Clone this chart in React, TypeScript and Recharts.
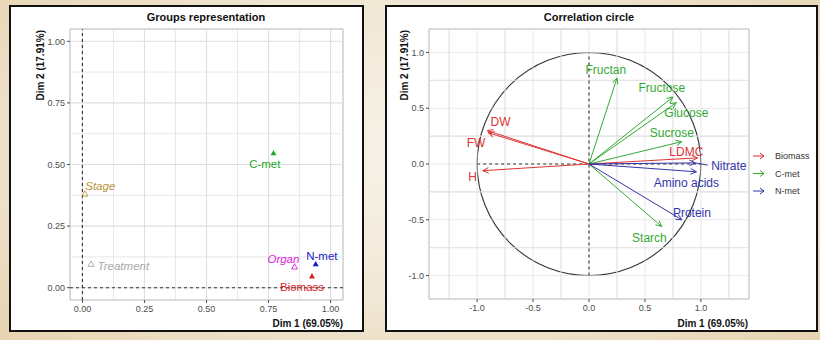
import React from 'react'
import { ScatterChart, Scatter, XAxis, YAxis, ReferenceLine, ReferenceArea } from 'recharts'

// groups representation (left panel)
const groupNames = ['C-met', 'Stage', 'Treatment', 'Organ', 'N-met', 'Biomass']
const groupDim1 = [0.77, 0.01, 0.035, 0.855, 0.94, 0.925]
const groupDim2 = [0.547, 0.381, 0.096, 0.085, 0.096, 0.047]
const groupLabelDim1 = [0.735, 0.072, 0.165, 0.81, 0.965, 0.885]
const groupLabelDim2 = [0.503, 0.413, 0.088, 0.117, 0.129, 0.003]
const groupActive = [true, false, false, false, true, true]
const groupColors = ['#22AA22', '#B8913A', '#A8A8A8', '#DD22DD', '#1A1AC8', '#DD2222']
const groupTicks = [0, 0.25, 0.5, 0.75, 1]
const groupGrid = [0, 0.125, 0.25, 0.375, 0.5, 0.625, 0.75, 0.875, 1]

// correlation circle (right panel)
const varNames = ['DW', 'FW', 'H', 'LDMC', 'Fructan', 'Fructose', 'Glucose', 'Sucrose', 'Starch', 'Nitrate', 'Amino acids', 'Protein']
const varGroup = ['Biomass', 'Biomass', 'Biomass', 'Biomass', 'C-met', 'C-met', 'C-met', 'C-met', 'C-met', 'N-met', 'N-met', 'N-met']
const varDim1 = [-0.91, -0.9, -0.95, 0.97, 0.25, 0.75, 0.78, 0.83, 0.65, 0.95, 0.96, 0.83]
const varDim2 = [0.3, 0.28, -0.06, 0.055, 0.77, 0.6, 0.55, 0.2, -0.56, 0.01, -0.07, -0.5]
const varLabelDim1 = [-0.79, -1.01, -1.04, 0.87, 0.15, 0.65, 0.87, 0.74, 0.54, 1.25, 0.87, 0.92]
const varLabelDim2 = [0.38, 0.19, -0.12, 0.11, 0.84, 0.68, 0.46, 0.28, -0.66, -0.02, -0.17, -0.44]
const legendGroups = ['Biomass', 'C-met', 'N-met']
const legendColors = ['#DD3333', '#33AA33', '#3333AA']
const nitrateConnector = [{ x: 0.95, y: 0.01 }, { x: 1.06, y: -0.01 }]
const circleTicks = [-1, -0.5, 0, 0.5, 1]
const circleGridX = [-1.25, -1, -0.75, -0.5, -0.25, 0, 0.25, 0.5, 0.75, 1, 1.25]
const circleGridY = [-1, -0.75, -0.5, -0.25, 0, 0.25, 0.5, 0.75, 1]

const groupPoints = groupNames.map((name, i) => ({ name, x: groupDim1[i], y: groupDim2[i], color: groupColors[i], active: groupActive[i] }))
const groupLabels = groupNames.map((name, i) => ({ name, x: groupLabelDim1[i], y: groupLabelDim2[i], color: groupColors[i], active: groupActive[i] }))
const colorOf = (g: string) => legendColors[legendGroups.indexOf(g)]
const varLabels = varNames.map((name, i) => ({ name, x: varLabelDim1[i], y: varLabelDim2[i], color: colorOf(varGroup[i]) }))

const GRID = '#DEDEDE'
const TICK = { fontSize: 9, fill: '#4D4D4D' }

const triangle = (p: any) => {
  const { cx, cy, payload } = p
  const pts = `${cx},${cy - 3} ${cx - 3},${cy + 2.3} ${cx + 3},${cy + 2.3}`
  return payload.active
    ? <polygon points={pts} fill={payload.color} />
    : <polygon points={pts} fill="none" stroke={payload.color} strokeWidth={0.9} />
}

const groupText = (p: any) => (
  <text x={p.cx} y={p.cy} textAnchor="middle" dominantBaseline="central" fontSize={11.5}
    fill={p.payload.color} fontStyle={p.payload.active ? 'normal' : 'italic'}>{p.payload.name}</text>
)

const varText = (p: any) => (
  <text x={p.cx} y={p.cy} textAnchor="middle" dominantBaseline="central" fontSize={12} fill={p.payload.color}>
    {p.payload.name}
  </text>
)

const arrow = (color: string) => (p: any) => {
  const { x1, y1, x2, y2 } = p
  const a = Math.atan2(y2 - y1, x2 - x1)
  const L = 6.5
  const w = Math.PI / 7
  const ax = x2 - L * Math.cos(a - w)
  const ay = y2 - L * Math.sin(a - w)
  const bx = x2 - L * Math.cos(a + w)
  const by = y2 - L * Math.sin(a + w)
  return (
    <g>
      <line x1={x1} y1={y1} x2={x2} y2={y2} stroke={color} strokeWidth={1} />
      <polyline points={`${ax},${ay} ${x2},${y2} ${bx},${by}`} fill="none" stroke={color} strokeWidth={1} />
    </g>
  )
}

const ellipse = (p: any) => (
  <ellipse cx={p.x + p.width / 2} cy={p.y + p.height / 2} rx={Math.abs(p.width) / 2} ry={Math.abs(p.height) / 2}
    fill="none" stroke="#333" strokeWidth={1.1} />
)

const panelStyle = (left: number, width: number): React.CSSProperties => ({
  position: 'absolute', left, top: 5, width, height: 327, boxSizing: 'border-box',
  border: '2px solid #111', background: '#fff',
})

function Titles({ w, title, titleX, plotRight, yTitleX }: { w: number; title: string; titleX: number; plotRight: number; yTitleX: number }) {
  return (
    <svg width={w} height={323} style={{ position: 'absolute', left: 0, top: 0, pointerEvents: 'none' }}>
      <text x={titleX} y={14} textAnchor="middle" fontSize={11} fontWeight="bold" fill="#111">{title}</text>
      <text x={plotRight} y={320} textAnchor="end" fontSize={10} fontWeight="bold" fill="#111">Dim 1 (69.05%)</text>
      <text x={yTitleX} y={23} textAnchor="end" fontSize={10} fontWeight="bold" fill="#111"
        transform={`rotate(-90 ${yTitleX} 23)`}>Dim 2 (17.91%)</text>
    </svg>
  )
}

export default function App() {
  return (
    <div style={{
      position: 'absolute', left: 0, top: 0, width: 820, height: 340, overflow: 'hidden',
      fontFamily: '"Liberation Sans", Arial, sans-serif',
      background: 'radial-gradient(ellipse at 50% 45%, #F7F2E8 0%, #F1E8D6 55%, #E6D3B0 100%)',
    }}>
      <div style={panelStyle(9, 355)}>
        <ScatterChart width={351} height={323} margin={{ top: 22, right: 19, bottom: 0, left: 0 }}>
          <XAxis type="number" dataKey="x" domain={[-0.05, 1.05]} ticks={groupTicks} allowDataOverflow
            tickFormatter={(v: number) => v.toFixed(2)} tick={TICK} tickLine={{ stroke: '#4D4D4D' }}
            tickSize={3} tickMargin={3} axisLine={false} height={30} />
          <YAxis type="number" dataKey="y" domain={[-0.05, 1.05]} ticks={groupTicks} allowDataOverflow
            tickFormatter={(v: number) => v.toFixed(2)} tick={TICK} tickLine={{ stroke: '#4D4D4D' }}
            tickSize={3} tickMargin={2} axisLine={false} width={59} />
          {groupGrid.map((v, i) => (
            <ReferenceLine key={'gx' + v} x={v} stroke={GRID} strokeWidth={i % 2 ? 0.7 : 1.1} ifOverflow="visible" />
          ))}
          {groupGrid.map((v, i) => (
            <ReferenceLine key={'gy' + v} y={v} stroke={GRID} strokeWidth={i % 2 ? 0.7 : 1.1} ifOverflow="visible" />
          ))}
          <ReferenceArea x1={-0.05} x2={1.05} y1={-0.05} y2={1.05} fill="none" stroke="#B5B5B5" strokeWidth={1} ifOverflow="visible" />
          <ReferenceLine x={0} stroke="#333" strokeDasharray="3 3" strokeWidth={1.1} ifOverflow="visible" />
          <ReferenceLine y={0} stroke="#333" strokeDasharray="3 3" strokeWidth={1.1} ifOverflow="visible" />
          <Scatter data={groupPoints} shape={triangle} isAnimationActive={false} />
          <Scatter data={groupLabels} shape={groupText} isAnimationActive={false} />
        </ScatterChart>
        <Titles w={351} title="Groups representation" titleX={195} plotRight={332} yTitleX={33} />
      </div>

      <div style={panelStyle(385, 433)}>
        <ScatterChart width={429} height={323} margin={{ top: 22, right: 67, bottom: 0, left: 0 }}>
          <XAxis type="number" dataKey="x" domain={[-1.43, 1.43]} ticks={circleTicks} allowDataOverflow
            tickFormatter={(v: number) => v.toFixed(1)} tick={TICK} tickLine={{ stroke: '#4D4D4D' }}
            tickSize={3} tickMargin={3} axisLine={false} height={31} />
          <YAxis type="number" dataKey="y" domain={[-1.21, 1.21]} ticks={circleTicks} allowDataOverflow
            tickFormatter={(v: number) => v.toFixed(1)} tick={TICK} tickLine={{ stroke: '#4D4D4D' }}
            tickSize={3} tickMargin={2} axisLine={false} width={42} />
          {circleGridX.map((v, i) => (
            <ReferenceLine key={'cx' + v} x={v} stroke={GRID} strokeWidth={i % 2 ? 0.7 : 1.1} ifOverflow="visible" />
          ))}
          {circleGridY.map((v, i) => (
            <ReferenceLine key={'cy' + v} y={v} stroke={GRID} strokeWidth={i % 2 ? 1.1 : 0.7} ifOverflow="visible" />
          ))}
          <ReferenceArea x1={-1.43} x2={1.43} y1={-1.21} y2={1.21} fill="none" stroke="#B5B5B5" strokeWidth={1} ifOverflow="visible" />
          <ReferenceArea x1={-1} x2={1} y1={-1} y2={1} shape={ellipse} ifOverflow="visible" />
          <ReferenceLine segment={[{ x: -1, y: 0 }, { x: 1, y: 0 }]} stroke="#333" strokeDasharray="3 3" strokeWidth={1.1} ifOverflow="visible" />
          <ReferenceLine segment={[{ x: 0, y: -1 }, { x: 0, y: 1 }]} stroke="#333" strokeDasharray="3 3" strokeWidth={1.1} ifOverflow="visible" />
          {varNames.map((n, i) => (
            <ReferenceLine key={n} segment={[{ x: 0, y: 0 }, { x: varDim1[i], y: varDim2[i] }]}
              shape={arrow(colorOf(varGroup[i]))} ifOverflow="visible" />
          ))}
          <ReferenceLine segment={nitrateConnector} stroke={colorOf('N-met')} strokeWidth={1} ifOverflow="visible" />
          <Scatter data={varLabels} shape={varText} isAnimationActive={false} />
        </ScatterChart>
        <Titles w={429} title="Correlation circle" titleX={202} plotRight={361} yTitleX={21} />
        <svg width={429} height={323} style={{ position: 'absolute', left: 0, top: 0, pointerEvents: 'none' }}>
          {legendGroups.map((g, i) => {
            const y = 149 + i * 17.5
            return (
              <g key={g}>
                <line x1={366} y1={y} x2={377} y2={y} stroke={legendColors[i]} strokeWidth={1} />
                <polyline points={`${373},${y - 3} ${377},${y} ${373},${y + 3}`} fill="none" stroke={legendColors[i]} strokeWidth={1} />
                <text x={388} y={y} dominantBaseline="central" fontSize={9} fill="#333">{g}</text>
              </g>
            )
          })}
        </svg>
      </div>
    </div>
  )
}
